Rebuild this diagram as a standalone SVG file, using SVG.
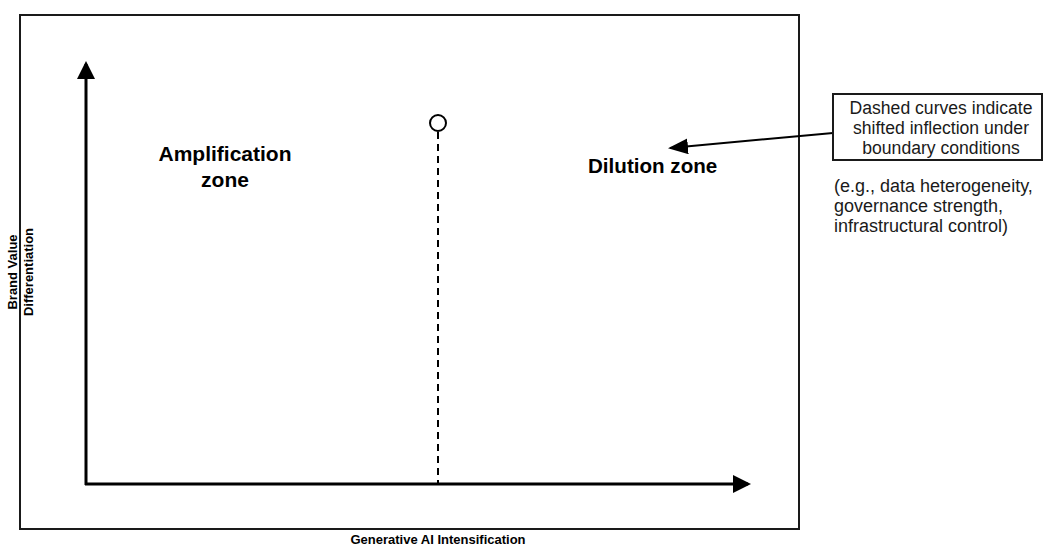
<svg xmlns="http://www.w3.org/2000/svg" width="1047" height="545" viewBox="0 0 1047 545">
<style>
.bold{font-family:"Liberation Sans",Arial,sans-serif;font-weight:bold;fill:#000}
.reg{font-family:"Liberation Sans",Arial,sans-serif;fill:#1a1a1a}
.axis{stroke:#000;stroke-width:3;fill:none}
</style>
<defs>
<marker id="ah" markerWidth="6" markerHeight="6" refX="5" refY="3" orient="auto" markerUnits="strokeWidth">
<path d="M0,0 L6,3 L0,6 Z" fill="#000"/>
</marker>
<marker id="ah2" markerWidth="10" markerHeight="8" refX="9" refY="4" orient="auto" markerUnits="strokeWidth">
<path d="M0,0 L10,4 L0,8 Z" fill="#000"/>
</marker>
</defs>
<rect width="1047" height="545" fill="#fff"/>
<rect id="frame" x="20" y="15" width="779" height="514" fill="none" stroke="#1a1a1a" stroke-width="2"/>
<g id="connectors">
<line class="axis" x1="86" y1="485" x2="86" y2="64" marker-end="url(#ah)"/>
<line class="axis" x1="85" y1="484" x2="748" y2="484" marker-end="url(#ah)"/>
<line x1="438" y1="132" x2="438" y2="484" stroke="#000" stroke-width="2" stroke-dasharray="7,5"/>
<line x1="833" y1="133" x2="670" y2="148" stroke="#000" stroke-width="2" marker-end="url(#ah2)"/>
</g>
<g id="inflection">
<circle cx="438" cy="123" r="8" fill="#fff" stroke="#000" stroke-width="2"/>
</g>
<g id="amplification">
<text class="bold" font-size="21" text-anchor="middle" x="225" y="161">Amplification</text>
<text class="bold" font-size="21" text-anchor="middle" x="225" y="187">zone</text>
</g>
<g id="dilution">
<text class="bold" font-size="20.6" x="588" y="173">Dilution zone</text>
</g>
<g id="callout">
<rect x="833" y="94" width="209" height="66" fill="#fff" stroke="#1a1a1a" stroke-width="2"/>
<text class="reg" font-size="17.6" text-anchor="middle" x="941" y="114">Dashed curves indicate</text>
<text class="reg" font-size="17.6" text-anchor="middle" x="941" y="134">shifted inflection under</text>
<text class="reg" font-size="17.6" text-anchor="middle" x="941" y="154">boundary conditions</text>
</g>
<g id="note">
<text class="reg" font-size="18" x="834" y="192">(e.g., data heterogeneity,</text>
<text class="reg" font-size="18" x="834" y="212">governance strength,</text>
<text class="reg" font-size="18" x="834" y="232">infrastructural control)</text>
</g>
<g id="ylabel">
<text class="bold" font-size="13" text-anchor="middle" transform="translate(17,272) rotate(-90)">Brand Value</text>
<text class="bold" font-size="13" text-anchor="middle" transform="translate(33,272) rotate(-90)">Differentiation</text>
</g>
<g id="xlabel">
<text class="bold" font-size="13" text-anchor="middle" x="438" y="544">Generative AI Intensification</text>
</g>
</svg>
